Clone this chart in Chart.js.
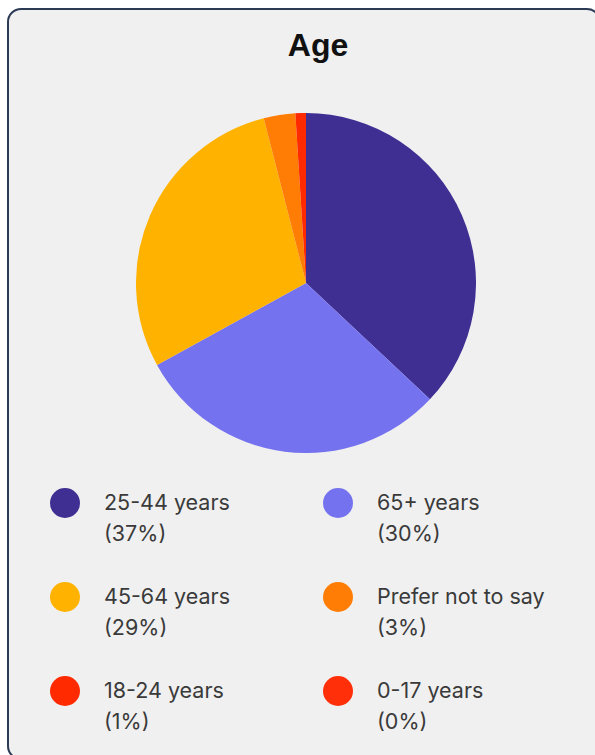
<!DOCTYPE html>
<html>
<head>
<meta charset="utf-8">
<script src="https://cdn.jsdelivr.net/npm/chart.js@4.4.1/dist/chart.umd.min.js"></script>
<style>
  body { margin: 0; background: #fff; width: 595px; height: 755px; overflow: hidden; position: relative; }
  .card {
    position: absolute; left: 7px; top: 8px; width: 594px; height: 752px;
    box-sizing: border-box; border: 2px solid #2c3a56; border-radius: 14px; background: #f0f0f0;
  }
  .titulo {
    position: absolute; left: 0; width: 636px; top: 29px; text-align: center;
    font: bold 32px "Liberation Sans", Arial, sans-serif; color: #111; line-height: 32px;
  }
  #pizza { position: absolute; left: 136px; top: 113px; }
  #legenda {
    position: absolute; left: 50px; top: 487px;
    display: grid; grid-template-columns: 273px 240px; grid-auto-rows: 94px;
    font: 21.5px Inter, "Noto Sans", sans-serif; color: #3a3a3a;
  }
  .item { display: flex; align-items: flex-start; }
  .bolinha { width: 30px; height: 30px; border-radius: 50%; margin-right: 24px; margin-top: 1px; flex: none; }
  .texto { line-height: 31px; }
</style>
</head>
<body>
<div class="card"></div>
<div class="titulo">Age</div>
<canvas id="pizza" width="340" height="340"></canvas>
<div id="legenda"></div>
<script>
// faixas etarias e percentuais
const faixas = ["25-44 years", "65+ years", "45-64 years", "Prefer not to say", "18-24 years", "0-17 years"];
const percentuais = [37, 30, 29, 3, 1, 0];
const cores = ["#3f2f93", "#7572ef", "#ffb300", "#ff7d05", "#ff2a00", "#ff2f0a"];

// monta a legenda em html, duas colunas
const legendaHtml = {
  id: "legendaHtml",
  afterUpdate(chart) {
    const box = document.getElementById("legenda");
    box.innerHTML = "";
    const itens = chart.options.plugins.legend.labels.generateLabels(chart);
    itens.forEach((it, i) => {
      const div = document.createElement("div");
      div.className = "item";
      const dot = document.createElement("span");
      dot.className = "bolinha";
      dot.style.background = it.fillStyle;
      const txt = document.createElement("div");
      txt.className = "texto";
      txt.innerHTML = it.text + "<br>(" + chart.data.datasets[0].data[i] + "%)";
      div.appendChild(dot);
      div.appendChild(txt);
      box.appendChild(div);
    });
  }
};

new Chart(document.getElementById("pizza"), {
  type: "pie",
  data: {
    labels: faixas,
    datasets: [{
      data: percentuais,
      backgroundColor: cores,
      borderWidth: 0
    }]
  },
  options: {
    responsive: false,
    animation: false,
    layout: { padding: 0 },
    plugins: {
      legend: { display: false },
      tooltip: { enabled: false }
    }
  },
  plugins: [legendaHtml]
});
</script>
</body>
</html>
